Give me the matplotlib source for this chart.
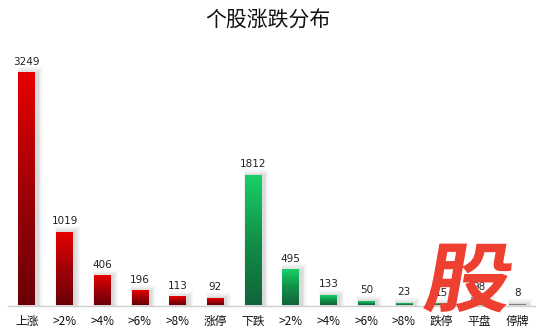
import matplotlib
matplotlib.use("Agg")
import matplotlib.pyplot as plt
import numpy as np
from matplotlib.colors import LinearSegmentedColormap
import matplotlib.transforms as mtransforms
from matplotlib.textpath import TextPath
from matplotlib.patches import PathPatch
from matplotlib.font_manager import FontProperties

plt.rcParams['font.family'] = ['Noto Sans CJK SC', 'DejaVu Sans']

categories = ['上涨', '>2%', '>4%', '>6%', '>8%', '涨停', '下跌', '>2%', '>4%', '>6%', '>8%', '跌停', '平盘', '停牌']
values = [3249, 1019, 406, 196, 113, 92, 1812, 495, 133, 50, 23, 15, 98, 8]
groups = ['up'] * 6 + ['down'] * 6 + ['flat'] * 2
title = '个股涨跌分布'
logo = '股'

cmaps = {
    'up': LinearSegmentedColormap.from_list('up', ['#6a0006', '#a00008', '#e60000']),
    'down': LinearSegmentedColormap.from_list('dn', ['#10643a', '#129048', '#18d068']),
    'flat': LinearSegmentedColormap.from_list('fl', ['#555555', '#7a7a7a', '#9a9a9a']),
}

fig = plt.figure(figsize=(5.36, 3.33), dpi=100)
ax = fig.add_axes([8 / 536, (333 - 305.5) / 333, 528 / 536, (305.5 - 45) / 333])
ymax = 3643
ax.set_xlim(-0.5, len(categories) - 0.5)
ax.set_ylim(0, ymax)

w = 0.45
grad = np.linspace(0, 1, 256).reshape(-1, 1)
for i, (v, g) in enumerate(zip(values, groups)):
    # soft shadow
    for k, a in enumerate([0.04, 0.05, 0.06, 0.07]):
        pad = (4 - k) * 0.035
        ax.add_patch(plt.Rectangle((i - w / 2 + 0.02 - pad * 0.3, 0), w + pad * 1.3 + 0.03,
                                   v + (4 - k) * 22,
                                   color='#555555', alpha=a, lw=0, zorder=1))
    ax.imshow(grad, extent=(i - w / 2, i + w / 2, 0, v), origin='lower',
              cmap=cmaps[g], aspect='auto', zorder=2)
    ax.text(i, v + ymax * 0.025, str(v), ha='center', va='bottom', fontsize=7.5,
            color='#222222', family='DejaVu Sans', zorder=3)

ax.set_xlim(-0.5, len(categories) - 0.5)
ax.set_ylim(0, ymax)
ax.set_xticks(range(len(categories)))
ax.set_xticklabels(categories, fontsize=8.5)
for lbl in ax.get_xticklabels():
    lbl.set_color('#111111')
ax.tick_params(axis='x', length=0, pad=7)
ax.set_yticks([])
for s in ['top', 'right', 'left']:
    ax.spines[s].set_visible(False)
ax.spines['bottom'].set_color('#d0d0d0')
ax.spines['bottom'].set_linewidth(1)

fig.text(0.5, 1 - 21 / 333, title, ha='center', va='center', fontsize=15, color='#111111')

# watermark logo (skewed, like the reference)
fp = FontProperties(family='Noto Sans CJK SC', weight='bold')
tp = TextPath((0, 0), logo, size=76, prop=fp)
bb = tp.get_extents()
tr = (mtransforms.Affine2D()
      .translate(-(bb.x0 + bb.x1) / 2, -(bb.y0 + bb.y1) / 2)
      .scale(1.15, 1.0)
      .skew_deg(10, 0)
      .translate(470, 333 - 278))
patch = PathPatch(tp, transform=tr, facecolor='#ee4030', edgecolor='none', zorder=10)
patch.set_transform(tr)
fig.patches.append(patch)
patch.set_figure(fig)

fig.savefig('out.png', dpi=100)
